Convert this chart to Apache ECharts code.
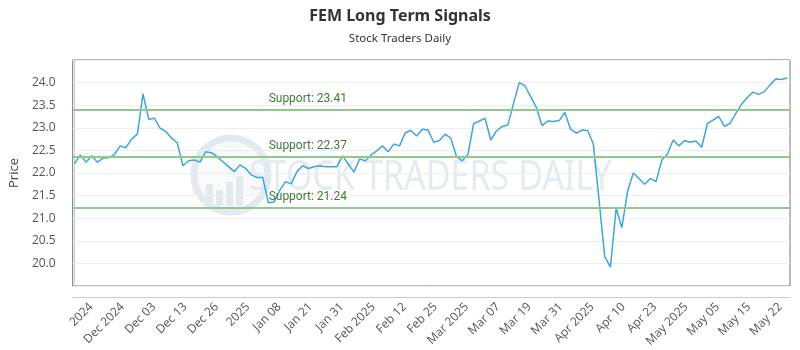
<!DOCTYPE html>
<html><head><meta charset="utf-8">
<script src="https://cdn.jsdelivr.net/npm/echarts@6/dist/echarts.min.js"></script>
<style>html,body{margin:0;padding:0;background:#fff}#c{width:800px;height:350px}</style>
</head><body><div id="c"></div>
<script>
const chartTitle = 'FEM Long Term Signals';
const chartSubtitle = 'Stock Traders Daily';
const yAxisName = 'Price';
// daily closing prices (one per trading day)
const prices = [22.21,22.40,22.24,22.38,22.24,22.33,22.34,22.41,22.60,22.56,22.75,22.86,
  23.75,23.19,23.21,22.99,22.92,22.77,22.67,22.16,
  22.27,22.29,22.24,22.47,22.45,22.36,22.25,22.14,22.03,22.18,
  22.10,21.96,21.90,21.90,21.34,21.36,21.62,21.81,21.76,22.03,
  22.16,22.10,22.14,22.16,22.14,22.14,22.14,22.38,22.20,22.02,
  22.31,22.27,22.40,22.49,22.60,22.47,22.64,22.60,22.89,22.94,
  22.82,22.97,22.95,22.68,22.72,22.86,22.77,22.36,22.27,22.41,
  23.09,23.15,23.21,22.73,22.93,23.03,23.06,23.54,24.00,23.93,
  23.69,23.45,23.05,23.15,23.14,23.16,23.34,22.97,22.88,22.95,
  22.94,22.64,21.40,20.15,19.92,21.22,20.79,21.59,22.00,21.88,
  21.75,21.88,21.81,22.28,22.42,22.73,22.60,22.72,22.68,22.71,
  22.57,23.09,23.17,23.25,23.03,23.10,23.32,23.52,23.67,23.79,
  23.74,23.80,23.95,24.08,24.07,24.10];
const tickLabels = ['2024','Dec 2024','Dec 03','Dec 13','Dec 26','2025','Jan 08','Jan 21','Jan 31',
  'Feb 2025','Feb 12','Feb 25','Mar 2025','Mar 07','Mar 19','Mar 31','Apr 2025','Apr 10','Apr 23',
  'May 2025','May 05','May 15','May 22'];
// position of each tick label along the day index
const tickPositions = [2.9,8.4,13.9,19.4,24.9,30.4,35.9,41.4,46.9,52.4,57.9,63.3,68.8,74.3,79.8,
  85.3,90.8,96.3,101.8,107.3,112.8,118.3,123.8];
const supportLevels = [23.41, 22.37, 21.24];
const yMin = 19.5, yMax = 24.5, yStep = 0.5;

const chart = echarts.init(document.getElementById('c'), null, {renderer:'canvas'});
const seriesData = prices.map((v, i) => [i, v]);

const option = {
  animation: false,
  backgroundColor: '#fff',
  title: {
    text: chartTitle,
    subtext: chartSubtitle,
    left: 'center',
    top: 3,
    itemGap: 9,
    textStyle: {fontFamily: '"Noto Sans", sans-serif', fontWeight: 'bold', fontSize: 16, color: '#333'},
    subtextStyle: {fontFamily: '"Noto Sans", sans-serif', fontSize: 11.5, color: '#333'}
  },
  grid: {left: 70, right: 10, top: 60, bottom: 64, show: true, borderColor: '#777', borderWidth: 1, backgroundColor: 'transparent'},
  graphic: [
    {type: 'circle', silent: true, z: 0, shape: {cx: 231, cy: 175, r: 37}, style: {fill: 'rgba(235,240,244,0.35)', stroke: '#e3e9ef', lineWidth: 7}},
    {type: 'rect', silent: true, z: 0, shape: {x: 206, y: 184, width: 7, height: 22}, style: {fill: '#e3e9ef'}},
    {type: 'rect', silent: true, z: 0, shape: {x: 216, y: 190, width: 7, height: 16}, style: {fill: '#e3e9ef'}},
    {type: 'rect', silent: true, z: 0, shape: {x: 226, y: 182, width: 7, height: 24}, style: {fill: '#e3e9ef'}},
    {type: 'rect', silent: true, z: 0, shape: {x: 236, y: 176, width: 7, height: 30}, style: {fill: '#e3e9ef'}},
    {type: 'text', silent: true, z: 0, x: 249, y: 178, scaleX: 0.81,
      style: {text: 'STOCK TRADERS DAILY', fontSize: 42, fontFamily: '"Noto Sans", sans-serif', fill: '#e6ebf0', textAlign: 'left', textVerticalAlign: 'middle'}}
  ],
  xAxis: {
    type: 'value',
    min: -0.35,
    max: 125.5,
    offset: 11,
    axisLine: {show: true, lineStyle: {color: '#ccc'}},
    axisTick: {show: false},
    splitLine: {show: false},
    axisLabel: {
      customValues: tickPositions,
      rotate: 45,
      margin: 8,
      fontFamily: '"Open Sans", sans-serif',
      fontSize: 12,
      color: '#555',
      formatter: function (v) {
        for (let k = 0; k < tickPositions.length; k++) {
          if (Math.abs(tickPositions[k] - v) < 1e-6) return tickLabels[k];
        }
        return '';
      }
    }
  },
  yAxis: {
    type: 'value',
    min: yMin,
    max: yMax,
    interval: yStep,
    offset: 10,
    name: yAxisName,
    nameLocation: 'middle',
    nameGap: 39,
    nameTextStyle: {fontFamily: '"Open Sans", sans-serif', fontSize: 13, color: '#444'},
    axisLine: {show: true, lineStyle: {color: '#ccc'}},
    axisTick: {show: false},
    splitLine: {show: true, lineStyle: {color: '#eeeeee'}},
    axisLabel: {
      margin: 7,
      fontFamily: '"Open Sans", sans-serif',
      fontSize: 12,
      color: '#555',
      formatter: function (v) {
        if (v <= yMin + 1e-9 || v >= yMax - 1e-9) return '';
        return v.toFixed(1);
      }
    }
  },
  series: [{
    type: 'line',
    data: seriesData,
    showSymbol: false,
    symbol: 'none',
    z: 3,
    lineStyle: {color: '#3da7dc', width: 1.5},
    markLine: {
      silent: true,
      symbol: 'none',
      animation: false,
      lineStyle: {color: '#8fca8c', width: 2, type: 'solid'},
      label: {
        show: true,
        position: 'insideStartTop',
        distance: [196, 4],
        fontFamily: 'Roboto, sans-serif',
        fontSize: 12,
        color: '#3d7a34',
        formatter: function (p) { return 'Support: ' + Number(p.value).toFixed(2); }
      },
      data: supportLevels.map(v => ({yAxis: v}))
    }
  }]
};
chart.setOption(option);
</script>
</body></html>
